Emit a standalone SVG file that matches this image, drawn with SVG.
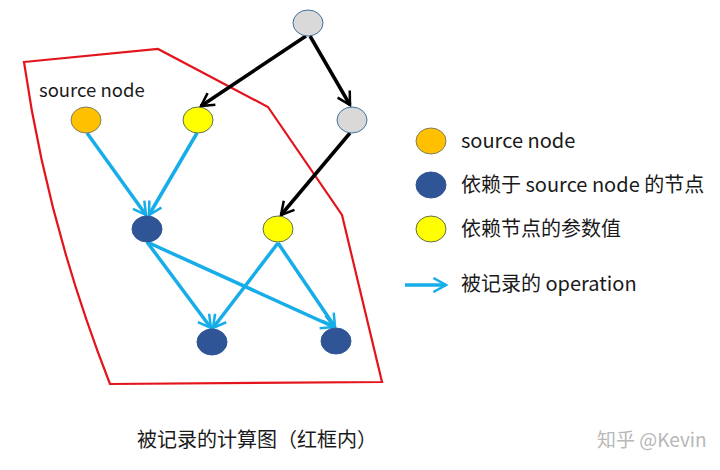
<svg xmlns="http://www.w3.org/2000/svg" width="720" height="470" viewBox="0 0 720 470">
<style>
text{font-family:"Noto Sans CJK SC","Noto Sans",sans-serif;fill:#1a1a1a}
.lbl{font-size:20px}
.gray{fill:#D9D9D9;stroke:#41719C;stroke-width:1}
.orange{fill:#FFC000;stroke:#7F7F5F;stroke-width:1}
.yellow{fill:#FFFF00;stroke:#5F6F4F;stroke-width:1}
.dblue{fill:#2F5597;stroke:#2F5597;stroke-width:1}
.blk{stroke:#000;stroke-width:3.5;fill:none;marker-end:url(#mb)}
.blu{stroke:#16ADE8;stroke-width:3.5;fill:none;marker-end:url(#mc)}
</style>
<defs>
<marker id="mb" viewBox="0 0 12 12" refX="10" refY="6" markerWidth="4.8" markerHeight="4.8" orient="auto" markerUnits="strokeWidth">
<path d="M1,1 L10,6 L1,11" fill="none" stroke="#000" stroke-width="1.8"/>
</marker>
<marker id="mc" viewBox="0 0 12 12" refX="10" refY="6" markerWidth="4.8" markerHeight="4.8" orient="auto" markerUnits="strokeWidth">
<path d="M1,1 L10,6 L1,11" fill="none" stroke="#16ADE8" stroke-width="1.8"/>
</marker>
</defs>
<rect width="720" height="470" fill="#fff"/>
<g id="red-frame">
<path d="M24,62 L158,49 L268,107 L342,215 L382,382 L110,384 Q47,223 24,62 Z" fill="none" stroke="#E3141B" stroke-width="2.2"/>
</g>
<g id="connectors">
<line class="blk" x1="306" y1="36" x2="201" y2="106"/>
<line class="blk" x1="310" y1="36" x2="350" y2="105"/>
<line class="blk" x1="350" y1="133" x2="281" y2="215"/>
<line class="blu" x1="87" y1="133" x2="146" y2="215"/>
<line class="blu" x1="197" y1="133" x2="149" y2="215"/>
<line class="blu" x1="147" y1="242" x2="211" y2="328"/>
<line class="blu" x1="147" y1="242" x2="334" y2="327"/>
<line class="blu" x1="278" y1="243" x2="213" y2="328"/>
<line class="blu" x1="278" y1="243" x2="335" y2="327"/>
</g>
<g id="n-top"><ellipse class="gray" cx="308" cy="23" rx="15" ry="13"/></g>
<g id="n-right"><ellipse class="gray" cx="352" cy="120" rx="15" ry="13"/></g>
<g id="n-source"><ellipse class="orange" cx="86" cy="120" rx="15" ry="13"/></g>
<g id="n-param1"><ellipse class="yellow" cx="198" cy="120" rx="15" ry="13"/></g>
<g id="n-dep1"><ellipse class="dblue" cx="147" cy="229" rx="15" ry="13"/></g>
<g id="n-param2"><ellipse class="yellow" cx="278" cy="229" rx="15" ry="13"/></g>
<g id="n-dep2"><ellipse class="dblue" cx="212" cy="342" rx="15" ry="13"/></g>
<g id="n-dep3"><ellipse class="dblue" cx="336" cy="341" rx="15" ry="13"/></g>
<g id="source-label"><text x="39" y="97" font-size="18.5">source node</text></g>
<g id="legend">
<ellipse class="orange" cx="431" cy="141" rx="15" ry="13"/>
<text class="lbl" x="461" y="148">source node</text>
<ellipse class="dblue" cx="431" cy="185" rx="15" ry="13"/>
<text class="lbl" x="461" y="192">依赖于 source node 的节点</text>
<ellipse class="yellow" cx="431" cy="229" rx="15" ry="13"/>
<text class="lbl" x="461" y="236">依赖节点的参数值</text>
<line class="blu" x1="405" y1="285" x2="446" y2="285"/>
<text class="lbl" x="461" y="291">被记录的 operation</text>
</g>
<g id="caption"><text x="137" y="447" font-size="20">被记录的计算图（红框内）</text></g>
<g id="watermark"><text x="597" y="447" font-size="19" style="fill:#B8B8B8">知乎 @Kevin</text></g>
</svg>
